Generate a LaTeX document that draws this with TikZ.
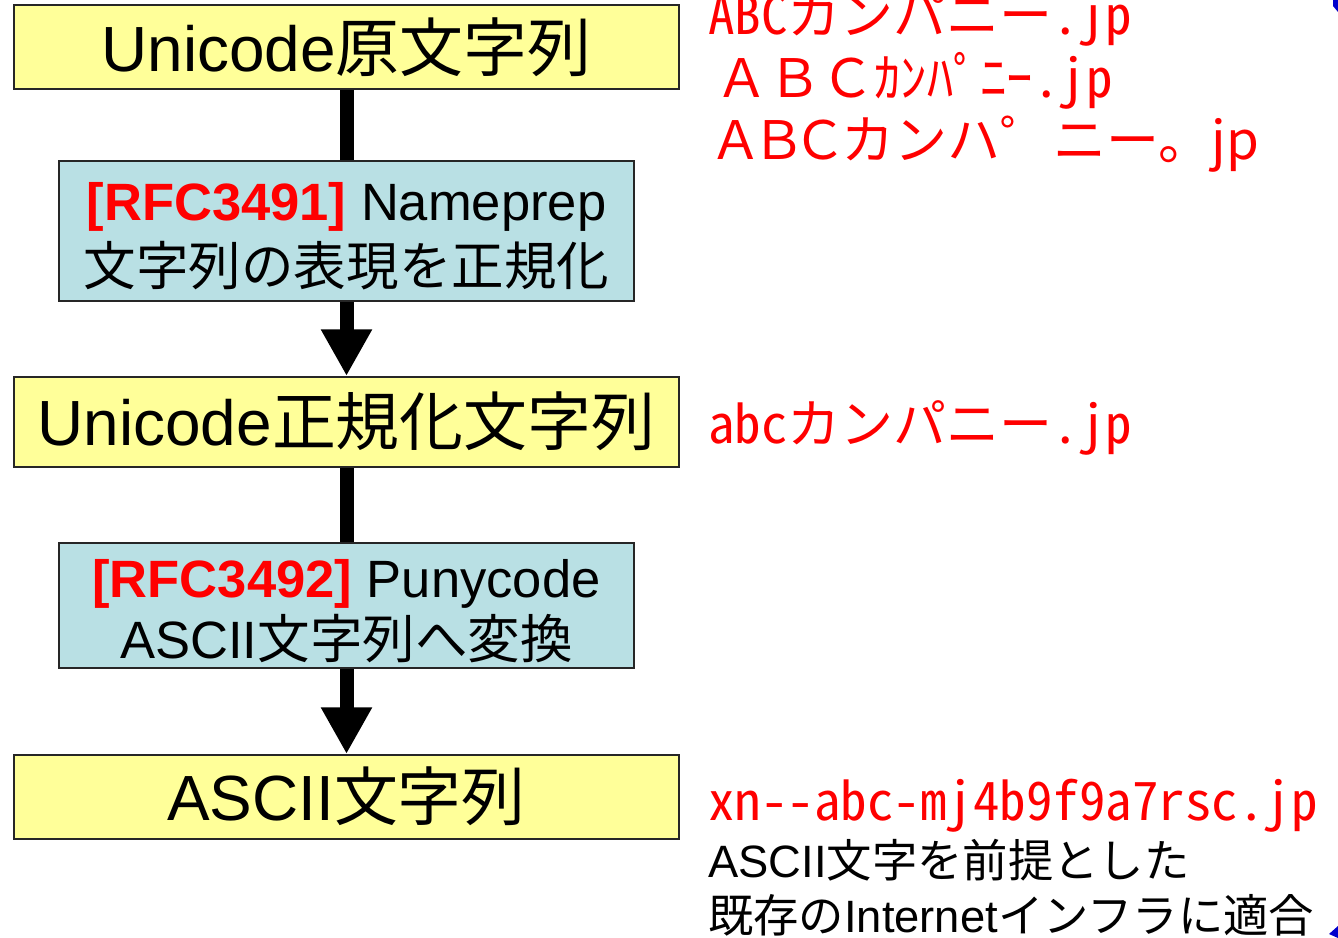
\documentclass[tikz,border=0pt]{standalone}
\usepackage{fontspec}
\setmainfont{Liberation Sans}
\newfontfamily\jp{Noto Sans CJK JP}
\newfontfamily\jph[RawFeature=+hwid]{Noto Sans CJK JP}
\newfontfamily\jpp[RawFeature=+palt]{Noto Sans CJK JP}
\usetikzlibrary{arrows.meta}
\definecolor{boxyellow}{RGB}{255,255,153}
\definecolor{boxblue}{RGB}{185,224,228}
\definecolor{txtred}{RGB}{255,0,0}
\definecolor{handle}{RGB}{0,0,204}
\newcommand{\J}[1]{{\jp #1}}
\newcommand{\fs}[1]{\fontsize{#1}{#1}\selectfont}
\begin{document}
\begin{tikzpicture}[x=0.75pt,y=-0.75pt,
  box/.style={draw=black!85,line width=1.5pt,inner sep=0pt},
  ybox/.style={box,fill=boxyellow,minimum width=498.75pt},
  bbox/.style={box,fill=boxblue,minimum width=431.25pt},
  txt/.style={inner sep=0pt,anchor=base},
  rtxt/.style={inner sep=0pt,anchor=base west},
  shaft/.style={line width=10.5pt},
  arr/.style={shaft,-{Triangle[width=36pt,length=35pt]}}]
\useasboundingbox (0,0) rectangle (1338,938);
% boxes
\node[ybox,minimum height=63pt]    (b1) at (346.5,47)    {};
\node[bbox,minimum height=105pt]   (b2) at (346.5,231)   {};
\node[ybox,minimum height=67.5pt]  (b3) at (346.5,422)   {};
\node[bbox,minimum height=93.75pt] (b4) at (346.5,605.5) {};
\node[ybox,minimum height=63pt]    (b5) at (346.5,797)   {};
% connectors
\draw[shaft] (b1.south) -- (b2.north);
\draw[arr]   (b2.south) -- (b3.north);
\draw[shaft] (b3.south) -- (b4.north);
\draw[arr]   (b4.south) -- (b5.north);
% box texts
\node[txt] (t1) at (346.5,72) {\fs{47.9pt}Unicode\J{原文字列}};
\node[txt] (t2a) at (346.5,220) {\fs{39.4pt}\textcolor{txtred}{\bfseries [RFC3491]} Nameprep};
\node[txt] (t2b) at (346.5,285) {\jp\fs{39.4pt}\makebox[388.5pt]{文\hfill 字\hfill 列\hfill の\hfill 表\hfill 現\hfill を\hfill 正\hfill 規\hfill 化}};
\node[txt] (t3) at (346.5,445) {\fs{47.9pt}Unicode\J{正規化文字列}};
\node[txt] (t4a) at (346.5,597) {\fs{39.4pt}\textcolor{txtred}{\bfseries [RFC3492]} Punycode};
\node[txt] (t4b) at (346.5,658) {\fs{39.4pt}ASCII\J{文字列へ変換}};
\node[txt] (t5) at (346.5,820) {\fs{47.9pt}ASCII\J{文字列}};
% right-hand texts
\node[rtxt,text=txtred] (r1) at (708,35)  {\jph\fs{39.75pt}ABCカンパニー.jp};
\node[rtxt,text=txtred] (r2) at (715,98)  {\fs{39.75pt}{\jp ＡＢＣｶﾝﾊﾟﾆｰ}{\jph .jp}};
\node[rtxt,text=txtred] (r3) at (715,160) {\fs{39.75pt}{\jpp ＡＢＣ}{\jp カンハ゜ニー。}{\jpp jp}};
\node[rtxt,text=txtred] (r4) at (708,443) {\jph\fs{39.75pt}abcカンパニー.jp};
\node[rtxt,text=txtred] (r5) at (708,820) {\jph\fs{39.75pt}xn-{}-abc-mj4b9f9a7rsc.jp};
\node[rtxt] (k1) at (708,877) {\fs{34pt}ASCII\J{文字を前提とした}};
\node[rtxt] (k2) at (708,932) {\fs{34pt}\J{既存の}Internet\J{インフラに適合}};
% selection handle fragments at the right edge
\fill[handle] (1333,0) -- (1338,0) -- (1338,12) -- (1333,6) -- cycle;
\fill[handle] (1338,926) -- (1338,938) -- (1329,934) -- cycle;
\end{tikzpicture}
\end{document}
